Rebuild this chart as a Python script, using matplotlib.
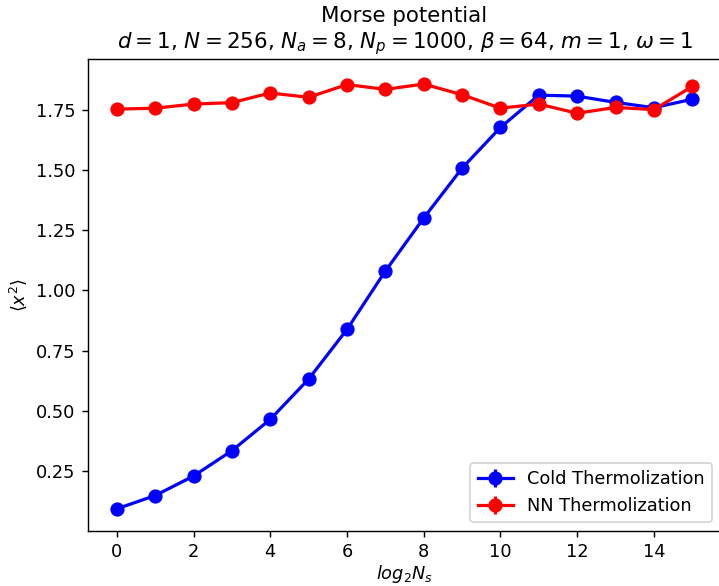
import matplotlib
matplotlib.use("Agg")
import matplotlib.pyplot as plt

# log2(N_s) steps
log2_ns = list(range(16))

# cold start thermalization
cold_x2 = [0.094, 0.149, 0.230, 0.335, 0.465, 0.632, 0.838, 1.080, 1.300, 1.507,
           1.676, 1.810, 1.806, 1.780, 1.758, 1.793]
cold_err = [0.003, 0.003, 0.003, 0.004, 0.004, 0.004, 0.005, 0.005, 0.006, 0.006,
            0.008, 0.020, 0.012, 0.016, 0.010, 0.015]

# neural network thermalization
nn_x2 = [1.752, 1.756, 1.773, 1.779, 1.819, 1.801, 1.854, 1.834, 1.856, 1.812,
         1.756, 1.773, 1.735, 1.759, 1.750, 1.846]
nn_err = [0.004, 0.004, 0.004, 0.004, 0.005, 0.005, 0.005, 0.005, 0.005, 0.006,
          0.008, 0.010, 0.008, 0.012, 0.020, 0.025]

dpi = 128
fig = plt.figure(figsize=(719 / dpi, 586 / dpi), dpi=dpi)
ax = fig.add_axes([88 / 719, 55 / 586, 633 / 719, 472 / 586])

ax.errorbar(log2_ns, cold_x2, yerr=cold_err, marker='o', color='blue',
            markersize=7, linewidth=1.8, label='Cold Thermolization')
ax.errorbar(log2_ns, nn_x2, yerr=nn_err, marker='o', color='red',
            markersize=7, linewidth=1.8, label='NN Thermolization')

ax.set_title('Morse potential\n'
             r'$d = 1$, $N = 256$, $N_a = 8$, $N_p = 1000$, $\beta = 64$, $m = 1$, $\omega = 1$')
ax.set_xlabel(r'$log_2N_s$', labelpad=1)
ax.set_ylabel(r'$\langle x^2 \rangle$')
ax.set_xticks([0, 2, 4, 6, 8, 10, 12, 14])
ax.legend(loc='lower right')

fig.savefig('out.png', dpi=dpi)
